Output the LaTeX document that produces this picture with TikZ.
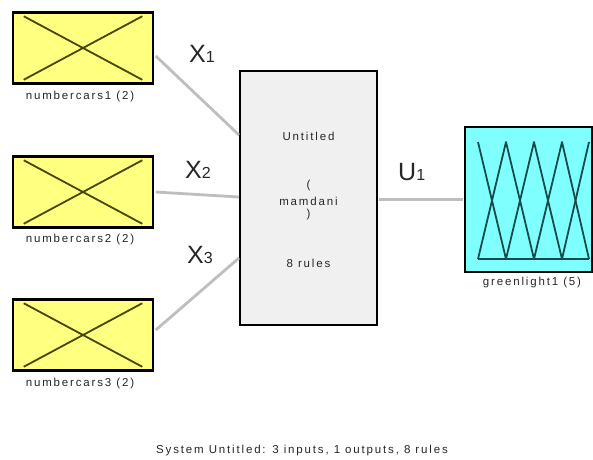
\documentclass[tikz,border=0pt]{standalone}
\usepackage{fontspec}
\setmainfont{Liberation Sans}
\newfontfamily\lblfont[LetterSpace=16]{Liberation Sans}
\usetikzlibrary{calc}
\definecolor{inyellow}{RGB}{255,255,128}
\definecolor{crossline}{RGB}{70,70,10}
\definecolor{sysgray}{RGB}{240,240,240}
\definecolor{outcyan}{RGB}{128,255,255}
\definecolor{mfline}{RGB}{20,75,75}
\definecolor{wire}{RGB}{190,190,190}
\tikzset{
  inbox/.style={draw=black, line width=2.5pt, fill=inyellow, minimum width=140pt, minimum height=71pt, inner sep=0pt},
  sysbox/.style={draw=black, line width=2pt, fill=sysgray, minimum width=137pt, minimum height=254pt, inner sep=0pt},
  outbox/.style={draw=black, line width=2.5pt, fill=outcyan, minimum width=127pt, minimum height=145pt, inner sep=0pt},
  xline/.style={draw=crossline, line width=1.8pt},
  mf/.style={draw=mfline, line width=1.8pt, line join=round},
  wirestyle/.style={draw=wire, line width=2.8pt},
  smalltxt/.style={font=\lblfont\fontsize{11.5}{13}\selectfont, text=black!85, inner sep=0pt},
  varlbl/.style={font=\fontsize{25}{28}\selectfont, text=black!85, inner sep=0pt, anchor=base west},
}
\newcommand{\sub}[1]{{\fontsize{16}{16}\selectfont #1}}
\begin{document}
\begin{tikzpicture}[x=1pt,y=-1pt]
\useasboundingbox[fill=white] (0,0) rectangle (593,459);

% input membership blocks
\node[inbox] (in1) at (83,48) {};
\node[inbox] (in2) at (83,192) {};
\node[inbox] (in3) at (83,335) {};
\foreach \n in {in1,in2,in3}{
  \draw[xline] ($(\n.north west)+(12,5)$) -- ($(\n.south east)+(-12,-5)$);
  \draw[xline] ($(\n.south west)+(12,-5)$) -- ($(\n.north east)+(-12,5)$);
}
\node[smalltxt] (lab1) at (80,97) {numbercars1 (2)};
\node[smalltxt] (lab2) at (80,240) {numbercars2 (2)};
\node[smalltxt] (lab3) at (80,384) {numbercars3 (2)};

% fuzzy system block
\node[sysbox] (sys) at (308.5,198) {};
\node[smalltxt] (sysname) at (308.5,136) {Untitled};
\node[smalltxt] (popen) at (308.5,186) {(};
\node[smalltxt] (systype) at (308.5,201) {mamdani};
\node[smalltxt] (pclose) at (308.5,215) {)};
\node[smalltxt] (nrules) at (308.5,263) {8 rules};

% output membership block
\node[outbox] (out) at (528.5,199.5) {};
\coordinate (t0) at (478,142); \coordinate (b0) at (478,259);
\coordinate (t1) at (506,142); \coordinate (b1) at (506,259);
\coordinate (t2) at (534,142); \coordinate (b2) at (534,259);
\coordinate (t3) at (562,142); \coordinate (b3) at (562,259);
\coordinate (t4) at (589,142); \coordinate (b4) at (589,259);
\draw[mf] (t0) -- (b1) -- (t2) -- (b3) -- (t4);
\draw[mf] (b0) -- (t1) -- (b2) -- (t3) -- (b4);
\draw[mf] (b0) -- (b4);
\node[smalltxt] (lab4) at (532,283) {greenlight1 (5)};

% connections
\coordinate (s1) at ($(sys.west)+(0,-63)$);
\coordinate (s2) at ($(sys.west)+(0,-1)$);
\coordinate (s3) at ($(sys.west)+(0,60)$);
\draw[wirestyle] ($(in1.east)+(1.5,8)$) -- (s1);
\draw[wirestyle] ($(in2.east)+(1.5,0)$) -- (s2);
\draw[wirestyle] ($(in3.east)+(1.5,-5)$) -- (s3);
\draw[wirestyle] ($(sys.east)+(1,1.5)$) -- ($(out.west |- sys.east)+(-1.2,1.5)$);

% variable labels
\node[varlbl] (x1) at (189,62) {X\sub{1}};
\node[varlbl] (x2) at (185,178) {X\sub{2}};
\node[varlbl] (x3) at (187,263) {X\sub{3}};
\node[varlbl] (u1) at (398,180) {U\sub{1}};

% summary line
\node[smalltxt, anchor=base] (summary) at (302,453) {System Untitled: 3 inputs, 1 outputs, 8 rules};
\end{tikzpicture}
\end{document}
